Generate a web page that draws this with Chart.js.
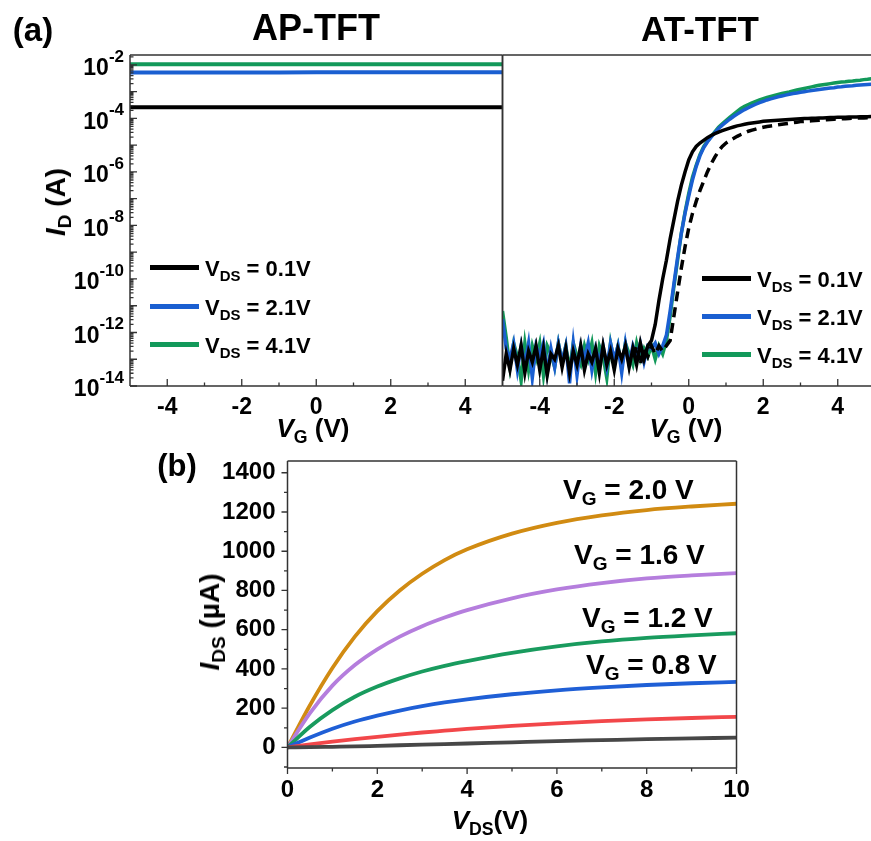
<!DOCTYPE html>
<html>
<head>
<meta charset="utf-8">
<script src="https://cdn.jsdelivr.net/npm/chart.js@4.4.1/dist/chart.umd.min.js"></script>
<style>
  html, body { margin: 0; padding: 0; background: #fff; width: 871px; height: 841px; overflow: hidden; }
  .box { position: absolute; left: 0; top: 0; width: 880px; height: 841px; }
  .t { position: absolute; font-family: "Liberation Sans", Arial, sans-serif; font-weight: bold; color: #000;
       white-space: nowrap; line-height: 1; transform: translate(-50%, -50%); }
  .l { transform: translate(0, -50%); }
  .rot { transform: translate(-50%, -50%) rotate(-90deg); }
  .t i { font-style: italic; }
  .t sub { font-size: .68em; vertical-align: baseline; position: relative; top: .32em; }
  .sw { position: absolute; width: 49px; height: 5px; }
</style>
</head>
<body>

<div class="box"><canvas id="apChart"></canvas></div>
<div class="box"><canvas id="atChart"></canvas></div>
<div class="box"><canvas id="outChart"></canvas></div>

<!-- panel letters / titles -->
<div class="t" style="left:33px; top:29px; font-size:33px;">(a)</div>
<div class="t" style="left:316px; top:28px; font-size:36px;">AP-TFT</div>
<div class="t" style="left:700px; top:28px; font-size:35px;">AT-TFT</div>
<div class="t rot" style="left:56px; top:202px; font-size:28px;"><i>I</i><sub>D</sub> (A)</div>
<div class="t" style="left:313px; top:428px; font-size:26px;"><i>V</i><sub>G</sub> (V)</div>
<div class="t" style="left:686px; top:428px; font-size:26px;"><i>V</i><sub>G</sub> (V)</div>

<!-- legends (a) -->
<div class="sw" style="left:150px; top:265px; background:#000;"></div>
<div class="sw" style="left:150px; top:304px; background:#1a5fd1;"></div>
<div class="sw" style="left:150px; top:342px; background:#12995a;"></div>
<div class="t l" style="left:205px; top:269px; font-size:22px;">V<sub>DS</sub> = 0.1V</div>
<div class="t l" style="left:205px; top:308px; font-size:22px;">V<sub>DS</sub> = 2.1V</div>
<div class="t l" style="left:205px; top:346px; font-size:22px;">V<sub>DS</sub> = 4.1V</div>

<div class="sw" style="left:702px; top:276px; background:#000;"></div>
<div class="sw" style="left:702px; top:314px; background:#1a5fd1;"></div>
<div class="sw" style="left:702px; top:352px; background:#12995a;"></div>
<div class="t l" style="left:757px; top:280px; font-size:22px;">V<sub>DS</sub> = 0.1V</div>
<div class="t l" style="left:757px; top:318px; font-size:22px;">V<sub>DS</sub> = 2.1V</div>
<div class="t l" style="left:757px; top:356px; font-size:22px;">V<sub>DS</sub> = 4.1V</div>

<!-- panel (b) text -->
<div class="t" style="left:177px; top:465px; font-size:31px;">(b)</div>
<div class="t rot" style="left:210px; top:622px; font-size:28px;"><i>I</i><sub>DS</sub> (µA)</div>
<div class="t" style="left:490px; top:820px; font-size:26px;"><i>V</i><sub>DS</sub>(V)</div>
<div class="t l" style="left:563px; top:490px; font-size:28px;">V<sub>G</sub> = 2.0 V</div>
<div class="t l" style="left:574px; top:555px; font-size:28px;">V<sub>G</sub> = 1.6 V</div>
<div class="t l" style="left:582px; top:618px; font-size:28px;">V<sub>G</sub> = 1.2 V</div>
<div class="t l" style="left:586px; top:665px; font-size:28px;">V<sub>G</sub> = 0.8 V</div>

<script>
// ---------------- (a) transfer curves, values are log10(I_D / A) ----------------
const vgAP = [-5, -4, -3, -2, -1, 0, 1, 2, 3, 4, 5];
const apLog01 = [-3.58, -3.58, -3.58, -3.58, -3.58, -3.58, -3.58, -3.58, -3.58, -3.58, -3.58];
const apLog21 = [-2.28, -2.28, -2.28, -2.28, -2.28, -2.27, -2.27, -2.27, -2.27, -2.27, -2.27];
const apLog41 = [-1.98, -1.98, -1.98, -1.98, -1.98, -1.98, -1.98, -1.98, -1.98, -1.98, -1.98];

const vgAT = [
  -5.0, -4.9, -4.8, -4.7, -4.6, -4.5, -4.4, -4.3, -4.2, -4.1,
  -4.0, -3.9, -3.8, -3.7, -3.6, -3.5, -3.4, -3.3, -3.2, -3.1,
  -3.0, -2.9, -2.8, -2.7, -2.6, -2.5, -2.4, -2.3, -2.2, -2.1,
  -2.0, -1.9, -1.8, -1.7, -1.6, -1.5, -1.4, -1.3, -1.2, -1.1,
  -1.0, -0.9, -0.8, -0.7, -0.6, -0.5, -0.4, -0.3, -0.2, -0.1,
  0.0, 0.1, 0.2, 0.3, 0.4, 0.5, 0.6, 0.7, 0.8, 0.9,
  1.0, 1.1, 1.2, 1.3, 1.4, 1.5, 1.6, 1.7, 1.8, 1.9,
  2.0, 2.1, 2.2, 2.3, 2.4, 2.5, 2.6, 2.7, 2.8, 2.9,
  3.0, 3.1, 3.2, 3.3, 3.4, 3.5, 3.6, 3.7, 3.8, 3.9,
  4.0, 4.1, 4.2, 4.3, 4.4, 4.5, 4.6, 4.7, 4.8, 4.9,
  5.0
];
const atLog01 = [
  -13.8, -12.8, -13.4, -12.6, -13.2, -12.5, -13.5, -12.7, -13.1, -12.5,
  -13.4, -12.6, -13.6, -12.8, -13.0, -12.5, -13.3, -12.6, -13.5, -12.7,
  -13.2, -12.5, -13.4, -12.8, -13.1, -12.6, -13.5, -12.5, -13.2, -12.7,
  -13.4, -12.6, -13.0, -12.5, -13.3, -12.6, -13.2, -12.4, -13.0, -12.5,
  -12.3, -11.7, -10.8, -10.0, -9.3, -8.5, -7.8, -7.1, -6.5, -6.0,
  -5.55, -5.25, -5.05, -4.92, -4.82, -4.72, -4.64, -4.57, -4.51, -4.46,
  -4.41, -4.36, -4.32, -4.28, -4.25, -4.22, -4.19, -4.17, -4.15, -4.13,
  -4.11, -4.10, -4.09, -4.08, -4.07, -4.06, -4.05, -4.04, -4.03, -4.02,
  -4.01, -4.005, -4.0, -3.995, -3.99, -3.985, -3.98, -3.975, -3.97, -3.965,
  -3.96, -3.957, -3.954, -3.951, -3.948, -3.945, -3.942, -3.939, -3.936, -3.933,
  -3.93
];
// second (dashed) sweep at V_DS = 0.1 V
const atLog01b = [
  null, null, null, null, null, null, null, null, null, null,
  null, null, null, null, null, null, null, null, null, null,
  null, null, null, null, null, null, null, null, null, null,
  null, null, null, null, null, -12.9, -12.5, -13.2, -12.6, -12.9,
  -12.5, -12.8, -12.5, -12.7, -12.5, -12.3, -11.4, -10.5, -9.6, -8.8,
  -8.1, -7.55, -7.1, -6.7, -6.35, -6.0, -5.7, -5.45, -5.22, -5.05,
  -4.92, -4.83, -4.75, -4.67, -4.6, -4.54, -4.48, -4.44, -4.4, -4.36,
  -4.33, -4.30, -4.28, -4.26, -4.24, -4.22, -4.20, -4.18, -4.16, -4.14,
  -4.12, -4.11, -4.10, -4.09, -4.08, -4.07, -4.06, -4.05, -4.04, -4.03,
  -4.02, -4.015, -4.01, -4.0, -3.995, -3.99, -3.985, -3.98, -3.975, -3.97,
  -3.965
];
const atLog21 = [
  -11.5, -12.6, -13.0, -12.4, -13.4, -12.5, -13.2, -12.4, -13.7, -12.5,
  -12.9, -12.4, -13.5, -12.6, -13.3, -12.4, -13.1, -12.5, -13.9, -12.4,
  -13.6, -12.5, -13.0, -12.4, -13.4, -12.6, -13.1, -12.5, -13.3, -12.4,
  -13.0, -12.5, -13.5, -12.4, -13.2, -12.5, -12.9, -12.4, -13.1, -12.5,
  -12.6, -12.4, -12.8, -12.5, -12.1, -11.2, -10.2, -9.2, -8.3, -7.55,
  -6.9, -6.3, -5.8, -5.4, -5.1, -4.88, -4.7, -4.53, -4.38, -4.25,
  -4.14, -4.03, -3.93, -3.84, -3.75, -3.67, -3.6, -3.53, -3.47, -3.41,
  -3.36, -3.31, -3.27, -3.23, -3.19, -3.16, -3.13, -3.1, -3.07, -3.05,
  -3.02, -3.0, -2.98, -2.96, -2.94, -2.92, -2.9, -2.88, -2.86, -2.85,
  -2.83, -2.82, -2.8, -2.79, -2.78, -2.76, -2.75, -2.74, -2.73, -2.72,
  -2.71
];
const atLog41 = [
  -11.2, -12.2, -13.3, -12.4, -12.9, -13.8, -12.4, -13.4, -12.5, -13.0,
  -12.4, -13.6, -12.5, -12.8, -13.3, -12.4, -13.1, -12.5, -13.4, -12.4,
  -12.9, -13.2, -12.5, -13.0, -12.4, -13.5, -12.5, -12.9, -13.7, -12.4,
  -13.1, -12.5, -13.3, -12.4, -12.8, -13.2, -12.4, -13.0, -12.6, -12.9,
  -12.5, -13.0, -12.5, -12.8, -12.3, -11.4, -10.3, -9.3, -8.3, -7.5,
  -6.8, -6.2, -5.75, -5.35, -5.05, -4.85, -4.68, -4.5, -4.33, -4.2,
  -4.08, -3.96, -3.85, -3.74, -3.63, -3.55, -3.48, -3.42, -3.36, -3.31,
  -3.26, -3.22, -3.18, -3.14, -3.1, -3.07, -3.04, -3.01, -2.97, -2.94,
  -2.91, -2.88, -2.85, -2.82, -2.79, -2.76, -2.74, -2.72, -2.7, -2.68,
  -2.66, -2.64, -2.63, -2.61, -2.6, -2.58, -2.57, -2.55, -2.54, -2.52,
  -2.51
];

const vgTicks = [-4, -2, 0, 2, 4];
const vgMinor = [-3, -1, 1, 3];
const decadeLabels = [-14, -12, -10, -8, -6, -4, -2];

// ---------------- (b) output curves, I_DS in µA ----------------
const vds = [0, 0.5, 1, 1.5, 2, 2.5, 3, 3.5, 4, 5, 6, 7, 8, 9, 10];
const idsVg20 = [0, 215, 405, 565, 695, 800, 885, 955, 1010, 1090, 1145, 1183, 1210, 1228, 1242];
const idsVg16 = [0, 175, 315, 420, 500, 565, 618, 662, 700, 760, 805, 838, 862, 877, 888];
const idsVg12 = [0, 105, 190, 258, 310, 352, 387, 416, 440, 482, 515, 540, 558, 571, 582];
const idsVg08 = [0, 50, 95, 132, 162, 188, 210, 229, 245, 271, 291, 306, 318, 327, 334];
const idsVg04 = [0, 15, 29, 42, 54, 65, 76, 85, 94, 110, 123, 134, 143, 150, 156];
const idsVg00 = [0, 1, 3, 5, 8, 11, 14, 17, 20, 26, 32, 37, 42, 46, 50];

const vdsTicks = [0, 2, 4, 6, 8, 10];
const vdsMinor = [1, 3, 5, 7, 9];
const idsTicks = [0, 200, 400, 600, 800, 1000, 1200, 1400];
const idsMinor = [-100, 100, 300, 500, 700, 900, 1100, 1300];

const C_BLACK = '#000000', C_BLUE = '#1a5fd1', C_GREEN = '#12995a';
const FONT = '"Liberation Sans", Arial, sans-serif';

function pts(xs, logs) {
  return xs.map((x, i) => ({ x: x, y: logs[i] === null ? null : Math.pow(10, logs[i]) }));
}
function lin(xs, ys) {
  return xs.map((x, i) => ({ x: x, y: ys[i] }));
}

// log-axis decoration: decades and 2..9 minor ticks
const decadeVals = [], minorVals = [];
for (let e = -14; e <= -2; e++) {
  decadeVals.push(Math.pow(10, e));
  for (let k = 2; k <= 9; k++) minorVals.push(k * Math.pow(10, e));
}

// frame, tick marks and tick labels, placed through the chart scales
const framePlugin = {
  id: 'frame',
  afterDatasetsDraw(chart, args, o) {
    const ctx = chart.ctx, a = chart.chartArea;
    const xs = chart.scales.x, ys = chart.scales.y;
    const s = o.inward ? 1 : -1;
    ctx.save();
    ctx.strokeStyle = '#333';
    ctx.lineWidth = 1.5;
    ctx.beginPath();
    if (o.sides.includes('t')) { ctx.moveTo(a.left, a.top); ctx.lineTo(a.right, a.top); }
    if (o.sides.includes('b')) { ctx.moveTo(a.left, a.bottom); ctx.lineTo(a.right, a.bottom); }
    if (o.sides.includes('l')) { ctx.moveTo(a.left, a.top); ctx.lineTo(a.left, a.bottom); }
    if (o.sides.includes('r')) { ctx.moveTo(a.right, a.top); ctx.lineTo(a.right, a.bottom); }
    ctx.stroke();

    ctx.lineWidth = 1.3;
    ctx.beginPath();
    (o.xMajor || []).forEach(v => { const p = xs.getPixelForValue(v); ctx.moveTo(p, a.bottom); ctx.lineTo(p, a.bottom - s * o.major); });
    (o.xMinor || []).forEach(v => { const p = xs.getPixelForValue(v); ctx.moveTo(p, a.bottom); ctx.lineTo(p, a.bottom - s * o.minor); });
    (o.yMajor || []).forEach(v => { const p = ys.getPixelForValue(v); if (p < a.top) return; ctx.moveTo(a.left, p); ctx.lineTo(a.left + s * o.major, p); });
    (o.yMinor || []).forEach(v => { const p = ys.getPixelForValue(v); if (p < a.top || p > a.bottom) return; ctx.moveTo(a.left, p); ctx.lineTo(a.left + s * o.minor, p); });
    ctx.stroke();

    ctx.fillStyle = '#000';
    ctx.font = o.font;
    ctx.textAlign = 'center';
    ctx.textBaseline = 'middle';
    (o.xLabels || []).forEach(v => ctx.fillText(String(v), xs.getPixelForValue(v), a.bottom + o.xGap));
    ctx.textAlign = 'right';
    (o.yLabels || []).forEach(v => ctx.fillText(String(v), a.left - o.yGap, ys.getPixelForValue(v)));
    (o.yPow || []).forEach(e => {
      const p = ys.getPixelForValue(Math.pow(10, e));
      const sup = '-' + Math.abs(e);
      ctx.font = o.supFont;
      const wS = ctx.measureText(sup).width;
      ctx.textAlign = 'right';
      ctx.fillText(sup, a.left - o.yGap, p - 8);
      ctx.font = o.font;
      ctx.fillText('10', a.left - o.yGap - wS, p + 4);
    });
    ctx.restore();
  }
};

function baseOptions(pad, xScale, yScale, frame) {
  return {
    responsive: true,
    maintainAspectRatio: false,
    animation: false,
    layout: { padding: pad },
    elements: { point: { radius: 0 }, line: { tension: 0 } },
    plugins: { legend: { display: false }, tooltip: { enabled: false }, frame: frame },
    scales: { x: xScale, y: yScale }
  };
}

const logY = { type: 'logarithmic', display: false, min: 1e-14, max: Math.pow(10, -1.63) };
const tickFontA = 'bold 23px ' + FONT;

new Chart(document.getElementById('apChart'), {
  type: 'line',
  data: {
    datasets: [
      { data: pts(vgAP, apLog01), borderColor: C_BLACK, borderWidth: 4 },
      { data: pts(vgAP, apLog21), borderColor: C_BLUE, borderWidth: 4 },
      { data: pts(vgAP, apLog41), borderColor: C_GREEN, borderWidth: 4 }
    ]
  },
  options: baseOptions({ left: 130, top: 55, right: 377.5, bottom: 455 },
    { type: 'linear', display: false, min: -5, max: 5 }, logY,
    { sides: 'tlbr', inward: true, major: 7, minor: 3.5,
      xMajor: vgTicks, xMinor: vgMinor, yMajor: decadeVals, yMinor: minorVals,
      xLabels: vgTicks, xGap: 22, yPow: decadeLabels, yGap: 6,
      font: tickFontA, supFont: 'bold 17px ' + FONT }),
  plugins: [framePlugin]
});

new Chart(document.getElementById('atChart'), {
  type: 'line',
  data: {
    datasets: [
      { data: pts(vgAT, atLog01b), borderColor: C_BLACK, borderWidth: 3.5, borderDash: [10, 6] },
      { data: pts(vgAT, atLog01), borderColor: C_BLACK, borderWidth: 3.5 },
      { data: pts(vgAT, atLog21), borderColor: C_BLUE, borderWidth: 3.5 },
      { data: pts(vgAT, atLog41), borderColor: C_GREEN, borderWidth: 3.5 }
    ]
  },
  options: baseOptions({ left: 502.5, top: 55, right: 5, bottom: 455 },
    { type: 'linear', display: false, min: -5, max: 5 }, logY,
    { sides: 'tlb', inward: true, major: 7, minor: 3.5,
      xMajor: vgTicks, xMinor: vgMinor, xLabels: vgTicks, xGap: 22,
      font: tickFontA }),
  plugins: [framePlugin]
});

new Chart(document.getElementById('outChart'), {
  type: 'line',
  data: {
    datasets: [
      { data: lin(vds, idsVg00), borderColor: '#474747', borderWidth: 3.8 },
      { data: lin(vds, idsVg04), borderColor: '#f2474a', borderWidth: 3.8 },
      { data: lin(vds, idsVg08), borderColor: '#1f5fd6', borderWidth: 3.8 },
      { data: lin(vds, idsVg12), borderColor: '#199b5e', borderWidth: 3.8 },
      { data: lin(vds, idsVg16), borderColor: '#b57edd', borderWidth: 3.8 },
      { data: lin(vds, idsVg20), borderColor: '#d18b12', borderWidth: 3.8 }
    ]
  },
  options: Object.assign(baseOptions({ left: 287.5, top: 461, right: 143.5, bottom: 73 },
    { type: 'linear', display: false, min: 0, max: 10 },
    { type: 'linear', display: false, min: -105, max: 1460 },
    { sides: 'tlbr', inward: false, major: 6, minor: 3.5,
      xMajor: vdsTicks, xMinor: vdsMinor, yMajor: idsTicks, yMinor: idsMinor,
      xLabels: vdsTicks, xGap: 22, yLabels: idsTicks, yGap: 12,
      font: 'bold 24px ' + FONT }), {
    elements: { point: { radius: 0 }, line: { cubicInterpolationMode: 'monotone' } }
  }),
  plugins: [framePlugin]
});
</script>
</body>
</html>
